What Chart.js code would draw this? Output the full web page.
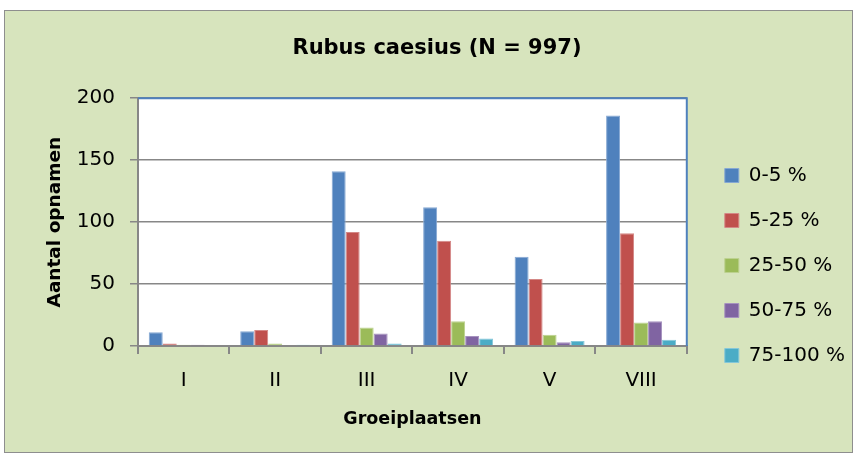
<!DOCTYPE html>
<html>
<head>
<meta charset="utf-8">
<script src="https://cdn.jsdelivr.net/npm/chart.js@4.4.0/dist/chart.umd.min.js"></script>
<style>
  html, body { margin: 0; background: #fff; }
  #frame {
    position: absolute; left: 4px; top: 10px;
    width: 847px; height: 441px;
    border: 1px solid #8e8e8e;
    background: #d7e4bd;
  }
  canvas { display: block; }
</style>
</head>
<body>
<div id="frame"><canvas id="bars" width="847" height="441"></canvas></div>
<script>
// aantal opnamen per groeiplaats, per bedekkingsklasse
const groeiplaatsen = ['I', 'II', 'III', 'IV', 'V', 'VIII'];
const klassen = ['0-5 %', '5-25 %', '25-50 %', '50-75 %', '75-100 %'];
const klasse0_5 = [11, 12, 141, 112, 72, 186];
const klasse5_25 = [2, 13, 92, 85, 54, 91];
const klasse25_50 = [1, 2, 15, 20, 9, 19];
const klasse50_75 = [1, 0, 10, 8, 3, 20];
const klasse75_100 = [0, 1, 2, 6, 4, 5];
const yTicks = [0, 50, 100, 150, 200];

const kleuren = ['#4f81bd', '#c0504d', '#9bbb59', '#8064a2', '#4bacc6'];
const randen = ['#86a8d3', '#d48886', '#bcd18f', '#a692bf', '#84c7d9'];
const reeksen = [klasse0_5, klasse5_25, klasse25_50, klasse50_75, klasse75_100];

const grijs = '#878787';
Chart.defaults.font.family = "'DejaVu Sans', sans-serif";
Chart.defaults.color = '#000';

// white plot area with the blue top/right edge
const plotArea = {
  id: 'plotArea',
  beforeDraw(chart) {
    const { ctx, chartArea: a } = chart;
    ctx.save();
    ctx.fillStyle = '#fff';
    ctx.fillRect(a.left, a.top, a.width, a.height);
    ctx.restore();
  },
  afterDraw(chart) {
    const { ctx, chartArea: a } = chart;
    ctx.save();
    ctx.strokeStyle = '#4f81bd';
    ctx.lineWidth = 2;
    ctx.beginPath();
    ctx.moveTo(a.left, a.top);
    ctx.lineTo(a.right, a.top);
    ctx.lineTo(a.right, a.bottom);
    ctx.stroke();
    ctx.restore();
  }
};

// move the legend column next to the plot, a bit lower
const legendShift = {
  id: 'legendShift',
  afterLayout(chart, args, opts) {
    const lg = chart.legend;
    lg.left += opts.dx; lg.right += opts.dx;
    lg.top += opts.dy; lg.bottom += opts.dy;
  }
};

new Chart(document.getElementById('bars'), {
  type: 'bar',
  data: {
    labels: groeiplaatsen,
    datasets: klassen.map((k, i) => ({
      label: k,
      data: reeksen[i],
      backgroundColor: kleuren[i],
      borderColor: randen[i],
      borderWidth: 1,
      barPercentage: 1,
      categoryPercentage: 0.765
    }))
  },
  options: {
    responsive: false,
    animation: false,
    layout: { padding: { left: 27, right: 10, top: 0, bottom: 0 } },
    plugins: {
      title: {
        display: true,
        text: 'Rubus caesius (N = 997)',
        font: { size: 21, weight: 'bold' },
        color: '#000',
        padding: { top: 25, bottom: 37 }
      },
      legend: {
        position: 'right',
        labels: { boxWidth: 14, boxHeight: 14, padding: 25, font: { size: 20 }, color: '#000' }
      },
      legendShift: { dx: 13, dy: 34 },
      tooltip: { enabled: false }
    },
    scales: {
      x: {
        ticks: { padding: 15, font: { size: 20 }, color: '#000' },
        grid: { drawOnChartArea: false, tickLength: 8, color: grijs, lineWidth: 2 },
        border: { color: grijs, width: 2 },
        title: { display: true, text: 'Groeiplaatsen', font: { size: 17.5, weight: 'bold' }, color: '#000', padding: { top: 0, bottom: 22 } },
        afterFit(s) { s.height = 106; }
      },
      y: {
        min: yTicks[0],
        max: yTicks[yTicks.length - 1],
        afterBuildTicks(s) { s.ticks = yTicks.map(v => ({ value: v })); },
        ticks: { padding: 15, font: { size: 20 }, color: '#000' },
        grid: { color: grijs, lineWidth: 1.5, tickLength: 8, tickColor: grijs },
        border: { color: grijs, width: 2 },
        title: { display: true, text: 'Aantal opnamen', font: { size: 18.5, weight: 'bold' }, color: '#000', padding: { top: 12, bottom: 0 } },
        afterFit(s) { s.width = 106; }
      }
    }
  },
  plugins: [plotArea, legendShift]
});
</script>
</body>
</html>
